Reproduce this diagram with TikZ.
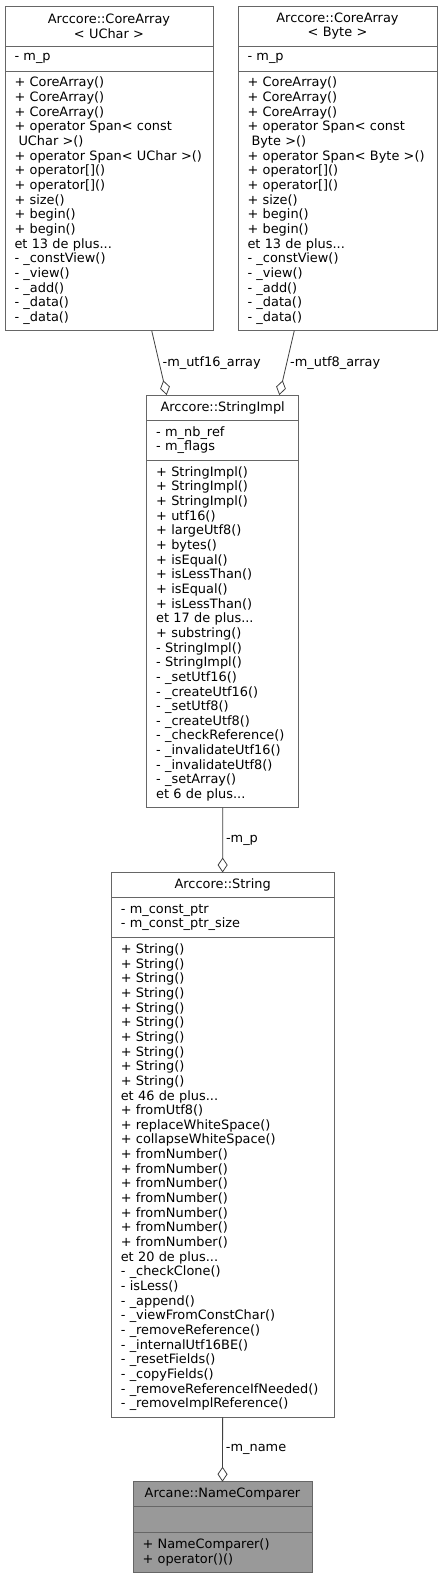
\documentclass[tikz,border=0pt]{standalone}
\usepackage{fontspec}
\setmainfont{DejaVu Sans}
\usetikzlibrary{positioning,arrows.meta}
\definecolor{boxline}{HTML}{666666}
\definecolor{edgeline}{HTML}{404040}
\definecolor{focusfill}{HTML}{999999}

\begin{document}
\begin{tikzpicture}[x=1pt, y=1pt,
        part/.style={draw=boxline, line width=0.9pt, fill=white, inner xsep=9.5pt, inner ysep=0pt,
            outer sep=0pt, font=\fontsize{12.9}{14.66}\selectfont},
        head/.style={part, align=center},
        body/.style={part, align=left},
        focus/.style={fill=focusfill},
        aggr/.style={draw=edgeline, line width=0.8pt, -{Diamond[open, length=15pt, width=10pt]}},
        role/.style={font=\fontsize{12.9}{14.66}\selectfont, inner sep=2pt, right=1pt}
    ]
        \fill[white] (0,0) rectangle (442,-1579);
        \useasboundingbox (0,0) rectangle (442,-1579);

        % CoreArray< UChar >
        \node[head, text width=189pt, minimum height=40pt, anchor=north west] (uchar) at (5,-6)
            {Arccore::CoreArray\\< UChar >};
        \node[body, text width=189pt, minimum height=25pt, below=0pt of uchar] (uchar_a) {- m\_p};
        \node[body, text width=189pt, minimum height=259.6pt, below=0pt of uchar_a] (uchar_m)
            {+ CoreArray()\\+ CoreArray()\\+ CoreArray()\\+ operator Span< const\\\hspace*{4pt}UChar >()\\
             + operator Span< UChar >()\\+ operator[]()\\+ operator[]()\\+ size()\\+ begin()\\+ begin()\\
             et 13 de plus...\\- \_constView()\\- \_view()\\- \_add()\\- \_data()\\- \_data()};

        % CoreArray< Byte >
        \node[head, text width=180pt, minimum height=40pt, anchor=north west] (byte) at (238,-6)
            {Arccore::CoreArray\\< Byte >};
        \node[body, text width=180pt, minimum height=25pt, below=0pt of byte] (byte_a) {- m\_p};
        \node[body, text width=180pt, minimum height=259.6pt, below=0pt of byte_a] (byte_m)
            {+ CoreArray()\\+ CoreArray()\\+ CoreArray()\\+ operator Span< const\\\hspace*{4pt}Byte >()\\
             + operator Span< Byte >()\\+ operator[]()\\+ operator[]()\\+ size()\\+ begin()\\+ begin()\\
             et 13 de plus...\\- \_constView()\\- \_view()\\- \_add()\\- \_data()\\- \_data()};

        % StringImpl
        \node[head, text width=133pt, minimum height=25pt, anchor=north west] (impl) at (146.7,-395)
            {Arccore::StringImpl};
        \node[body, text width=133pt, minimum height=40pt, below=0pt of impl] (impl_a)
            {- m\_nb\_ref\\- m\_flags};
        \node[body, text width=133pt, minimum height=347.6pt, below=0pt of impl_a] (impl_m)
            {+ StringImpl()\\+ StringImpl()\\+ StringImpl()\\+ utf16()\\+ largeUtf8()\\+ bytes()\\
             + isEqual()\\+ isLessThan()\\+ isEqual()\\+ isLessThan()\\et 17 de plus...\\+ substring()\\
             - StringImpl()\\- StringImpl()\\- \_setUtf16()\\- \_createUtf16()\\- \_setUtf8()\\
             - \_createUtf8()\\- \_checkReference()\\- \_invalidateUtf16()\\- \_invalidateUtf8()\\
             - \_setArray()\\et 6 de plus...};

        % String
        \node[head, text width=203.7pt, minimum height=25pt, anchor=north west] (str) at (111.3,-872.5)
            {Arccore::String};
        \node[body, text width=203.7pt, minimum height=40pt, below=0pt of str] (str_a)
            {- m\_const\_ptr\\- m\_const\_ptr\_size};
        \node[body, text width=203.7pt, minimum height=479.5pt, below=0pt of str_a] (str_m)
            {+ String()\\+ String()\\+ String()\\+ String()\\+ String()\\+ String()\\+ String()\\
             + String()\\+ String()\\+ String()\\et 46 de plus...\\+ fromUtf8()\\+ replaceWhiteSpace()\\
             + collapseWhiteSpace()\\+ fromNumber()\\+ fromNumber()\\+ fromNumber()\\+ fromNumber()\\
             + fromNumber()\\+ fromNumber()\\+ fromNumber()\\et 20 de plus...\\- \_checkClone()\\
             - isLess()\\- \_append()\\- \_viewFromConstChar()\\- \_removeReference()\\
             - \_internalUtf16BE()\\- \_resetFields()\\- \_copyFields()\\- \_removeReferenceIfNeeded()\\
             - \_removeImplReference()};

        % NameComparer
        \node[head, focus, text width=160pt, minimum height=25pt, anchor=north west] (name) at (133,-1481.7)
            {Arcane::NameComparer};
        \node[body, focus, text width=160pt, minimum height=26pt, below=0pt of name] (name_a) {};
        \node[body, focus, text width=160pt, minimum height=39.6pt, below=0pt of name_a] (name_m)
            {+ NameComparer()\\+ operator()()};

        \draw[aggr] ([xshift=42.7pt]uchar_m.south) -- node[role] {-m\_utf16\_array} ([xshift=-56pt]impl.north);
        \draw[aggr] ([xshift=-43.2pt]byte_m.south) -- node[role] {-m\_utf8\_array} ([xshift=56.6pt]impl.north);
        \draw[aggr] (impl_m.south) -- node[role] {-m\_p} (str.north);
        \draw[aggr] (str_m.south) -- node[role] {-m\_name} (name.north);
    \end{tikzpicture}
\end{document}
